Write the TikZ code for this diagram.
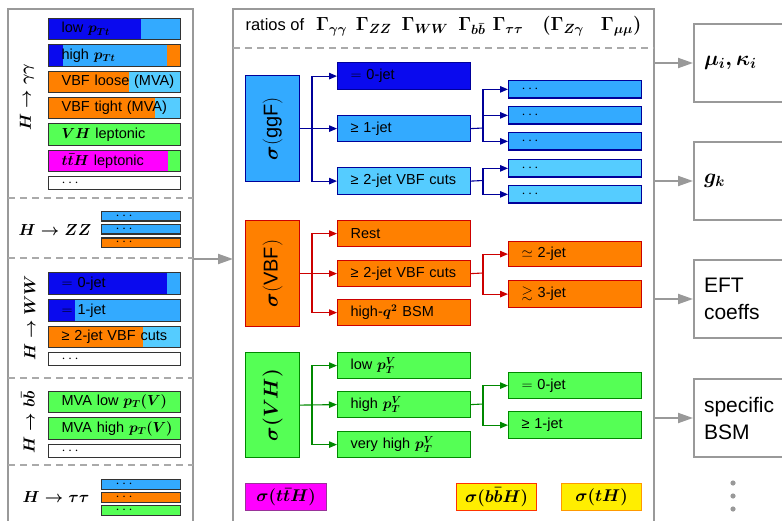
\RequirePackage{fix-cm}
\documentclass[tikz,border=0pt]{standalone}
\usepackage{amsmath,amssymb}
\usepackage{fontspec}
\setmainfont{Liberation Sans}
\usetikzlibrary{arrows.meta}
\definecolor{dblue}{HTML}{0A0AEE}
\definecolor{lblue}{HTML}{33AAFF}
\definecolor{cyanb}{HTML}{55CCFF}
\definecolor{orng}{HTML}{FF8000}
\definecolor{grn}{HTML}{55FF55}
\definecolor{mag}{HTML}{FF00FF}
\definecolor{yel}{HTML}{FFEE00}
\definecolor{navyb}{HTML}{000099}
\definecolor{redb}{HTML}{CC0000}
\definecolor{dgrn}{HTML}{008800}
\definecolor{framec}{HTML}{999999}
\definecolor{dashc}{HTML}{AAAAAA}
\definecolor{purp}{HTML}{993399}
\definecolor{orred}{HTML}{FF3300}
\definecolor{orbr}{HTML}{FF9900}
\tikzset{
  bar/.style={draw=black!80, line width=1.3pt, inner sep=0pt, anchor=north west, align=left, font=\fontsize{14.5}{17}\selectfont},
  lbar/.style={bar, text width=132pt, minimum height=21pt},
  sbar/.style={bar, text width=79pt, minimum height=9.5pt},
  twotone/.style 2 args={path picture={\fill[#2] ([xshift=#1]path picture bounding box.north west) rectangle (path picture bounding box.south east);}},
  threetone/.style n args={4}{path picture={\fill[#2] (path picture bounding box.north west) rectangle ([xshift=#1]path picture bounding box.south west); \fill[#4] ([xshift=#3]path picture bounding box.north west) rectangle (path picture bounding box.south east);}},
  cbox/.style={line width=1.2pt, inner sep=0pt, anchor=north west, text width=133pt, align=left, font=\fontsize{14.5}{17}\selectfont},
  sigbox/.style={line width=1.2pt, inner sep=0pt, anchor=north west, minimum width=54pt, minimum height=106pt},
  sigtext/.style={rotate=90, font=\fontsize{20}{20}\selectfont},
  sigtextb/.style={rotate=90, font=\fontsize{20}{20}\selectfont\boldmath},
  prodbox/.style={line width=1.2pt, inner sep=0pt, anchor=north west, minimum width=81pt, minimum height=27pt, font=\fontsize{17}{17}\selectfont\boldmath},
  lab/.style={font=\fontsize{16}{16}\selectfont\boldmath},
  carrow/.style={line width=1.1pt, -{Triangle[length=8pt,width=6.5pt]}},
  cline/.style={line width=1.1pt},
  garrow/.style={draw=framec, line width=2pt, -{Triangle[length=15pt,width=10pt]}},
  frameline/.style={draw=framec, line width=2pt},
  sep/.style={draw=dashc, line width=1.2pt, dash pattern=on 7pt off 5pt},
  rbox/.style={draw=framec, line width=2pt, anchor=north west, minimum height=78pt, text width=100pt, inner xsep=10pt, align=left, font=\fontsize{21}{27}\selectfont\boldmath},
}
\newcommand\mydots{\smash{\raisebox{-3pt}{$\cdots$}}}
\newcommand\gm[1]{{\fontsize{19}{19}\selectfont$#1$}}
\begin{document}
\begin{tikzpicture}[x=1pt,y=-1pt]
\path[use as bounding box, clip] (0,0) rectangle (782,521);
% ---------- left panel frame ----------
\draw[frameline] (8,540) -- (8,9) -- (193,9) -- (193,540);
\draw[sep] (8,198) -- (193,198);
\draw[sep] (8,258) -- (193,258);
\draw[sep] (8,378) -- (193,378);
\draw[sep] (8,465) -- (193,465);
% H -> gamma gamma
\node[lab, rotate=90] (lgg) at (27,97) {$H\rightarrow\gamma\gamma$};
\node[lbar, fill=dblue, twotone={92pt}{lblue}] (gg1) at (48,18) {\hspace*{13pt}low $\boldsymbol{p_{Tt}}$};
\node[lbar, fill=lblue, minimum height=22pt, threetone={14pt}{dblue}{118pt}{orng}] (gg2) at (48,44) {\hspace*{13pt}high $\boldsymbol{p_{Tt}}$};
\node[lbar, fill=orng, twotone={80pt}{cyanb}] (gg3) at (48,71) {\hspace*{13pt}VBF loose (MVA)};
\node[lbar, fill=orng, twotone={106pt}{cyanb}] (gg4) at (48,97) {\hspace*{13pt}VBF tight (MVA)};
\node[lbar, fill=grn, minimum height=22pt] (gg5) at (48,123) {\hspace*{13pt}$\boldsymbol{VH}$ leptonic};
\node[lbar, fill=mag, twotone={119pt}{grn}] (gg6) at (48,150) {\hspace*{13pt}$\boldsymbol{t\bar{t}H}$ leptonic};
\node[lbar, fill=white, minimum height=13pt] (gg7) at (48,176) {\hspace*{13pt}\mydots};
% H -> ZZ
\node[lab] (lzz) at (55,230) {$H\rightarrow ZZ$};
\node[sbar, fill=lblue] (zz1) at (101,211) {\hspace*{14pt}\mydots};
\node[sbar, fill=lblue] (zz2) at (101,224) {\hspace*{14pt}\mydots};
\node[sbar, fill=orng] (zz3) at (101,237.5) {\hspace*{14pt}\mydots};
% H -> WW
\node[lab, rotate=90] (lww) at (30,318) {$H\rightarrow WW$};
\node[lbar, fill=dblue, minimum height=22pt, twotone={118pt}{lblue}] (ww1) at (48,272) {\hspace*{13pt}$=$ 0-jet};
\node[lbar, fill=dblue, minimum height=22pt, twotone={26pt}{lblue}] (ww2) at (48,299) {\hspace*{13pt}$=$ 1-jet};
\node[lbar, fill=orng, twotone={94pt}{cyanb}] (ww3) at (48,326) {\hspace*{13pt}≥ 2-jet VBF cuts};
\node[lbar, fill=white, minimum height=13pt] (ww4) at (48,352) {\hspace*{13pt}\mydots};
% H -> bb
\node[lab, rotate=90] (lbb) at (28,422) {$H\rightarrow b\bar{b}$};
\node[lbar, fill=grn] (bb1) at (48,391) {\hspace*{13pt}MVA low $\boldsymbol{p_T(V)}$};
\node[lbar, fill=grn, minimum height=22pt] (bb2) at (48,417) {\hspace*{13pt}MVA high $\boldsymbol{p_T(V)}$};
\node[lbar, fill=white, minimum height=13pt] (bb3) at (48,444) {\hspace*{13pt}\mydots};
% H -> tau tau
\node[lab] (ltt) at (56,497) {$H\rightarrow \tau\tau$};
\node[sbar, fill=lblue] (tt1) at (101,479) {\hspace*{14pt}\mydots};
\node[sbar, fill=orng] (tt2) at (101,492) {\hspace*{14pt}\mydots};
\node[sbar, fill=grn] (tt3) at (101,505) {\hspace*{14pt}\mydots};
% ---------- arrow left -> center ----------
\coordinate (lpR) at (193,259);
\coordinate (cpL) at (233,259);
\draw[garrow] (lpR) -- (cpL);
% ---------- center panel frame ----------
\draw[frameline] (233,540) -- (233,9) -- (654,9) -- (654,540);
\node[anchor=west, font=\fontsize{16.5}{17}\selectfont\boldmath] (hdr) at (242,26)
  {ratios of\hspace{12pt}\gm{\Gamma_{\gamma\gamma}}\hspace{9pt}\gm{\Gamma_{ZZ}}\hspace{10pt}\gm{\Gamma_{WW}}\hspace{10pt}\gm{\Gamma_{b\bar{b}}}\hspace{7pt}\gm{\Gamma_{\tau\tau}}\hspace{19pt}\gm{(\Gamma_{Z\gamma}}\hspace{17pt}\gm{\Gamma_{\mu\mu})}};
\draw[sep] (233,48) -- (654,48);
% ggF
\node[sigbox, draw=navyb, fill=lblue] (sg) at (245,75) {};
\node[sigtext] (sgt) at (sg.center) {$\boldsymbol{\sigma}($ggF$)$};
\node[cbox, draw=navyb, fill=dblue, minimum height=27pt] (g0) at (337,62) {\hspace*{13pt}$=$ 0-jet};
\node[cbox, draw=navyb, fill=lblue, minimum height=26pt] (g1) at (337,115) {\hspace*{13pt}≥ 1-jet};
\node[cbox, draw=navyb, fill=cyanb, minimum height=27pt] (g2) at (337,167) {\hspace*{13pt}≥ 2-jet VBF cuts};
\node[cbox, draw=navyb, fill=lblue, minimum height=17.5pt] (s1) at (508,80) {\hspace*{13pt}\mydots};
\node[cbox, draw=navyb, fill=lblue, minimum height=17.5pt] (s2) at (508,106) {\hspace*{13pt}\mydots};
\node[cbox, draw=navyb, fill=lblue, minimum height=17.5pt] (s3) at (508,132) {\hspace*{13pt}\mydots};
\node[cbox, draw=navyb, fill=cyanb, minimum height=17.5pt] (s4) at (508,159) {\hspace*{13pt}\mydots};
\node[cbox, draw=navyb, fill=cyanb, minimum height=17.5pt] (s5) at (508,185) {\hspace*{13pt}\mydots};
\coordinate (bg) at (312,128);
\coordinate (bg1) at (483,128);
\coordinate (bg2) at (483,180.5);
\begin{scope}[draw=navyb, fill=navyb]
\draw[carrow] (sg.east) -- (g1.west);
\draw[carrow] (bg) |- (g0.west);
\draw[carrow] (bg) |- (g2.west);
\draw[cline] (g1.east) -- (bg1);
\draw[carrow] (bg1) |- (s1.west);
\draw[carrow] (bg1) |- (s2.west);
\draw[carrow] (bg1) |- (s3.west);
\draw[cline] (g2.east) -- (bg2);
\draw[carrow] (bg2) |- (s4.west);
\draw[carrow] (bg2) |- (s5.west);
\end{scope}
% VBF
\node[sigbox, draw=redb, fill=orng] (sv) at (245,220) {};
\node[sigtext] (svt) at (sv.center) {$\boldsymbol{\sigma}($VBF$)$};
\node[cbox, draw=redb, fill=orng, minimum height=26pt] (v0) at (337,220) {\hspace*{13pt}Rest};
\node[cbox, draw=redb, fill=orng, minimum height=26pt] (v1) at (337,260) {\hspace*{13pt}≥ 2-jet VBF cuts};
\node[cbox, draw=redb, fill=orng, minimum height=26pt] (v2) at (337,299) {\hspace*{13pt}high-$\boldsymbol{q^2}$ BSM};
\node[cbox, draw=redb, fill=orng, minimum height=25pt] (r1) at (508,241) {\hspace*{13pt}$\simeq$ 2-jet};
\node[cbox, draw=redb, fill=orng, minimum height=27pt] (r2) at (508,280) {\hspace*{13pt}$\gtrsim$ 3-jet};
\coordinate (bv) at (312,273);
\coordinate (bv1) at (483,273);
\begin{scope}[draw=redb, fill=redb]
\draw[carrow] (sv.east) -- (v1.west);
\draw[carrow] (bv) |- (v0.west);
\draw[carrow] (bv) |- (v2.west);
\draw[cline] (v1.east) -- (bv1);
\draw[carrow] (bv1) |- (r1.west);
\draw[carrow] (bv1) |- (r2.west);
\end{scope}
% VH
\node[sigbox, draw=dgrn, fill=grn, minimum height=105pt] (svh) at (245,352) {};
\node[sigtextb] (svht) at (svh.center) {$\sigma(VH)$};
\node[cbox, draw=dgrn, fill=grn, minimum height=26pt] (h0) at (337,352) {\hspace*{13pt}low $\boldsymbol{p_T^V}$};
\node[cbox, draw=dgrn, fill=grn, minimum height=26pt] (h1) at (337,391) {\hspace*{13pt}high $\boldsymbol{p_T^V}$};
\node[cbox, draw=dgrn, fill=grn, minimum height=26pt] (h2) at (337,431) {\hspace*{13pt}very high $\boldsymbol{p_T^V}$};
\node[cbox, draw=dgrn, fill=grn, minimum height=26pt] (e0) at (508,372) {\hspace*{13pt}$=$ 0-jet};
\node[cbox, draw=dgrn, fill=grn, minimum height=27pt] (e1) at (508,411) {\hspace*{13pt}≥ 1-jet};
\coordinate (bh) at (312,404.5);
\coordinate (bh1) at (483,404);
\begin{scope}[draw=dgrn, fill=dgrn]
\draw[carrow] (svh.east) -- (h1.west);
\draw[carrow] (bh) |- (h0.west);
\draw[carrow] (bh) |- (h2.west);
\draw[cline] (h1.east) -- (bh1);
\draw[carrow] (bh1) |- (e0.west);
\draw[carrow] (bh1) |- (e1.west);
\end{scope}
% other production modes
\node[prodbox, draw=purp, fill=mag] (ptth) at (245,483) {$\sigma(t\bar{t}H)$};
\node[prodbox, draw=orred, fill=yel, minimum width=80pt] (pbbh) at (456,483) {$\sigma(b\bar{b}H)$};
\node[prodbox, draw=orbr, fill=yel, minimum width=80pt] (pth) at (561,483) {$\sigma(tH)$};
% ---------- right boxes ----------
\node[rbox] (rb1) at (693,23) {$\mu_i,\kappa_i$};
\node[rbox] (rb2) at (693,141) {$g_k$};
\node[rbox] (rb3) at (693,259) {EFT\\coeffs};
\node[rbox] (rb4) at (693,378) {specific\\BSM};
\coordinate (cpR) at (654,0);
\draw[garrow] (rb1.west -| cpR) -- (rb1.west);
\draw[garrow] (rb2.west -| cpR) -- (rb2.west);
\draw[garrow] (rb3.west -| cpR) -- (rb3.west);
\draw[garrow] (rb4.west -| cpR) -- (rb4.west);
\fill[framec] (733,483) circle (2.6pt) (733,496) circle (2.6pt) (733,509) circle (2.6pt);
\end{tikzpicture}
\end{document}
